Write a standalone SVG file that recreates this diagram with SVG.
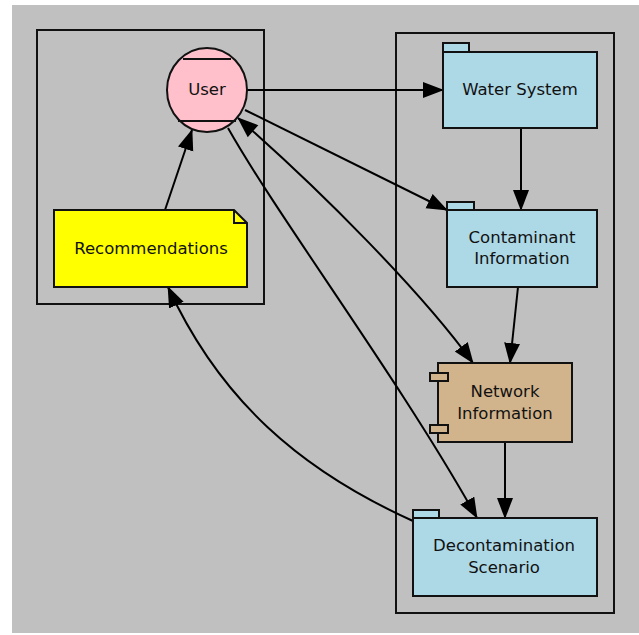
<svg xmlns="http://www.w3.org/2000/svg" width="639" height="635" viewBox="0 0 639 635">
<style>
.lbl{font-family:"DejaVu Sans","Noto Sans",sans-serif;font-size:16.5px;fill:#111;text-anchor:middle}
.cl{fill:none;stroke:#111;stroke-width:2}
.nd{stroke:#111;stroke-width:2}
.e{fill:none;stroke:#000;stroke-width:2}
</style>
<defs>
<marker id="ah" markerUnits="userSpaceOnUse" markerWidth="24" markerHeight="18" refX="20" refY="8" orient="auto">
<path d="M0,0 L21,8 L0,16 Z" fill="#000"/>
</marker>
<marker id="as" markerUnits="userSpaceOnUse" markerWidth="24" markerHeight="18" refX="1" refY="8" orient="auto">
<path d="M21,0 L0,8 L21,16 Z" fill="#000"/>
</marker>
</defs>
<rect x="0" y="0" width="639" height="635" fill="#fff"/>
<rect x="12" y="5" width="627" height="628" fill="#c0c0c0"/>
<g id="cluster_left"><rect class="cl" x="37" y="30" width="227" height="274"/></g>
<g id="cluster_right"><rect class="cl" x="396" y="33" width="218" height="580"/></g>
<g id="connectors">
<path class="e" d="M247,90 L443,90" marker-end="url(#ah)"/>
<path class="e" d="M521,128 L521,210" marker-end="url(#ah)"/>
<path class="e" d="M245,110 L447,210" marker-end="url(#ah)"/>
<path class="e" d="M518,287 L510,363" marker-end="url(#ah)"/>
<path class="e" d="M505,442 L505,518" marker-end="url(#ah)"/>
<path class="e" d="M238,118 C320,190 420,290 473,363" marker-start="url(#as)" marker-end="url(#ah)"/>
<path class="e" d="M228,128 C280,220 400,380 477,518" marker-end="url(#ah)"/>
<path class="e" d="M413,521 C300,470 220,400 168,287" marker-end="url(#ah)"/>
<path class="e" d="M165,210 L192,130" marker-end="url(#ah)"/>
</g>
<g id="user">
<ellipse class="nd" cx="207" cy="90" rx="40" ry="42" fill="#ffc0cb"/>
<line class="nd" x1="183" y1="59" x2="231" y2="59"/>
<line class="nd" x1="178" y1="121" x2="236" y2="121"/>
<text class="lbl" x="207" y="95">User</text>
</g>
<g id="recommendations">
<path class="nd" d="M54,210 L234,210 L247,223 L247,287 L54,287 Z" fill="#ffff00"/>
<path class="nd" d="M234,210 L234,223 L247,223" fill="none"/>
<text class="lbl" x="151" y="254">Recommendations</text>
</g>
<g id="water_system">
<rect class="nd" x="443" y="43" width="26" height="9" fill="#add8e6"/>
<rect class="nd" x="443" y="52" width="154" height="76" fill="#add8e6"/>
<text class="lbl" x="520" y="95">Water System</text>
</g>
<g id="contaminant_information">
<rect class="nd" x="447" y="202" width="27" height="8" fill="#add8e6"/>
<rect class="nd" x="447" y="210" width="150" height="77" fill="#add8e6"/>
<text class="lbl" x="522" y="243">Contaminant</text>
<text class="lbl" x="522" y="264">Information</text>
</g>
<g id="network_information">
<rect class="nd" x="438" y="363" width="134" height="79" fill="#d2b48c"/>
<rect class="nd" x="430" y="373" width="18" height="8" fill="#d2b48c"/>
<rect class="nd" x="430" y="425" width="18" height="8" fill="#d2b48c"/>
<text class="lbl" x="505" y="397">Network</text>
<text class="lbl" x="505" y="419">Information</text>
</g>
<g id="decontamination_scenario">
<rect class="nd" x="413" y="510" width="26" height="8" fill="#add8e6"/>
<rect class="nd" x="413" y="518" width="184" height="78" fill="#add8e6"/>
<text class="lbl" x="504" y="551">Decontamination</text>
<text class="lbl" x="504" y="573">Scenario</text>
</g>
</svg>
